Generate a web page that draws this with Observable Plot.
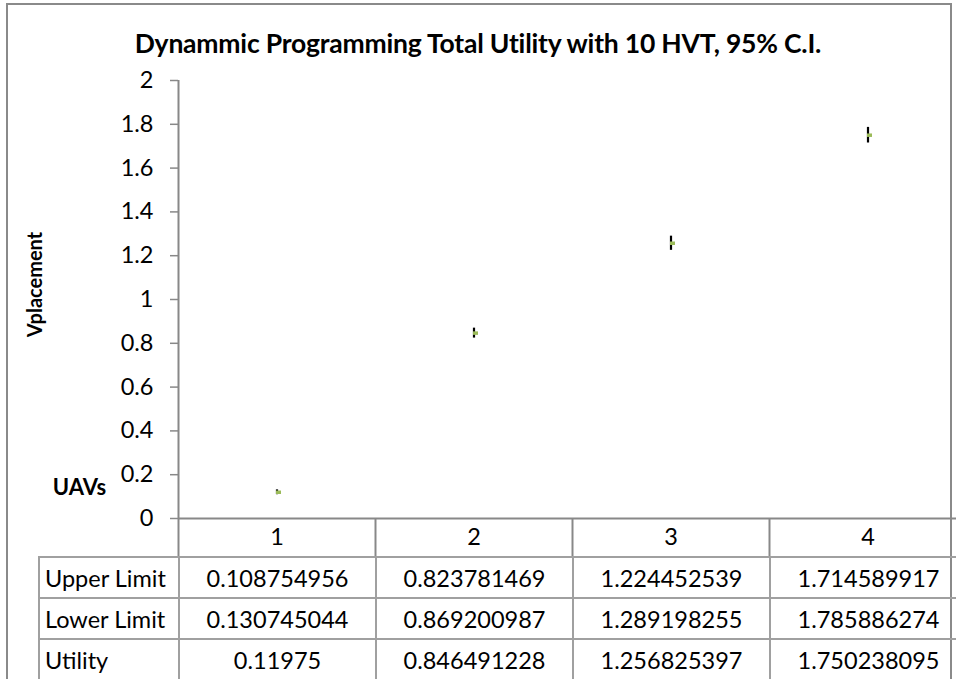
<!DOCTYPE html>
<html>
<head>
<meta charset="utf-8">
<script src="https://cdn.jsdelivr.net/npm/d3@7"></script>
<script src="https://cdn.jsdelivr.net/npm/@observablehq/plot@0.6"></script>
<style>
  html, body { margin: 0; padding: 0; background: #fff; }
  #wrap { position: relative; width: 956px; height: 679px; overflow: hidden; font-family: Lato, "Open Sans", sans-serif; }
  #frame { position: absolute; left: 6px; top: 3px; width: 946px; height: 700px; border: 2px solid #8a8a8a; box-sizing: border-box; }
  #title { position: absolute; left: 0; top: 27px; width: 956px; text-align: center; font-weight: bold; font-size: 26.5px; color: #000; white-space: nowrap; letter-spacing: -0.2px; }
  #chart { position: absolute; left: 0; top: 0; }
  #tbl { position: absolute; left: 38px; top: 556px; border-collapse: collapse; table-layout: fixed; width: 928px; font-size: 23.5px; color: #000; }
  #tbl td { border: 2px solid #a0a0a0; padding: 0; height: 39px; text-align: center; white-space: nowrap; overflow: hidden; }
  #tbl td.lab { text-align: left; padding-left: 5px; }
</style>
</head>
<body>
<div id="wrap">
  <div id="frame"></div>
  <div id="chart"></div>
  <div id="title"></div>
  <table id="tbl">
    <colgroup><col style="width:140px"><col style="width:197px"><col style="width:197px"><col style="width:197px"><col style="width:197px"></colgroup>
    <tbody id="tbody"></tbody>
  </table>
</div>
<script>
const titleText = "Dynammic Programming Total Utility with 10 HVT, 95% C.I.";
const yLabel = "Vplacement";
const xLabel = "UAVs";
const uavs = [1, 2, 3, 4];
const upperLimit = [0.108754956, 0.823781469, 1.224452539, 1.714589917];
const lowerLimit = [0.130745044, 0.869200987, 1.289198255, 1.785886274];
const utility = [0.11975, 0.846491228, 1.256825397, 1.750238095];
const rowLabels = ["Upper Limit", "Lower Limit", "Utility"];
const rowValues = [upperLimit, lowerLimit, utility];
const yTicks = [0, 0.2, 0.4, 0.6, 0.8, 1, 1.2, 1.4, 1.6, 1.8, 2];

const data = uavs.map((u, i) => ({uav: u, upper: upperLimit[i], lower: lowerLimit[i], utility: utility[i]}));
const bounds = [0.5, 1.5, 2.5, 3.5, 4.5];
const gray = "#888888";

const marker = {
  draw(ctx) { ctx.rect(-1, -1.75, 5, 3.5); }
};

const chart = Plot.plot({
  width: 956,
  height: 557,
  marginTop: 80,
  marginBottom: 39,
  marginLeft: 178,
  marginRight: 0,
  x: {type: "linear", domain: [0.5, 4.5], range: [178, 966]},
  y: {domain: [0, 2], range: [518, 80]},
  style: {fontFamily: "Lato, 'Open Sans', sans-serif", fontSize: "23.5px", color: "#000", background: "transparent", overflow: "visible"},
  marks: [
    Plot.axisY({ticks: yTicks, tickSize: 8, tickPadding: 17, tickFormat: d => String(+d.toFixed(1)), stroke: gray, strokeWidth: 1.5, strokeOpacity: 1, fill: "#000", label: null}),
    Plot.ruleX([0.5], {stroke: gray, strokeWidth: 2}),
    Plot.ruleY([0], {stroke: gray, strokeWidth: 2}),
    Plot.axisX({ticks: bounds, tickSize: 39, tickFormat: () => "", stroke: gray, strokeWidth: 2, strokeOpacity: 1, label: null}),
    Plot.axisX({ticks: uavs, tickSize: 0, tickPadding: 10, tickFormat: d => String(d), fill: "#000", label: null}),
    Plot.ruleX(data, {x: "uav", y1: "lower", y2: "upper", stroke: "#000", strokeWidth: 2.2}),
    Plot.dot(data, {x: "uav", y: "utility", symbol: marker, fill: "#9bbb59", stroke: "none", r: 3}),
    Plot.text([yLabel], {frameAnchor: "left", textAnchor: "middle", rotate: -90, dx: -143, dy: -15, fontWeight: "bold", fontSize: 20, fill: "#000"}),
    Plot.text([xLabel], {frameAnchor: "bottom-left", textAnchor: "middle", dx: -99, dy: -24, fontWeight: "bold", fontSize: 22, fill: "#000"})
  ]
});
document.getElementById("chart").appendChild(chart);
document.getElementById("title").textContent = titleText;

const tbody = document.getElementById("tbody");
rowLabels.forEach((lab, r) => {
  const tr = document.createElement("tr");
  const th = document.createElement("td");
  th.className = "lab";
  th.textContent = lab;
  tr.appendChild(th);
  rowValues[r].forEach(v => {
    const td = document.createElement("td");
    td.textContent = String(v);
    tr.appendChild(td);
  });
  tbody.appendChild(tr);
});
</script>
</body>
</html>
